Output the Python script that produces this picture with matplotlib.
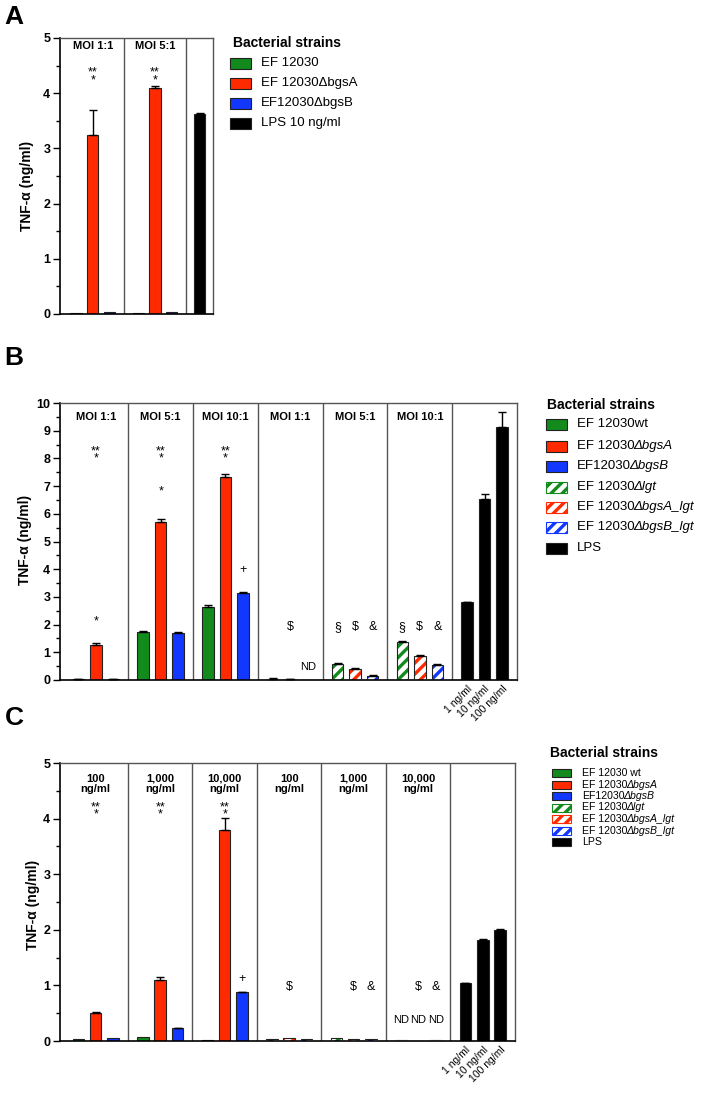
import numpy as np
import matplotlib.pyplot as plt
from matplotlib.patches import Rectangle
from matplotlib.ticker import MultipleLocator

plt.rcParams['font.family'] = ['Liberation Sans', 'DejaVu Sans']
plt.rcParams['hatch.linewidth'] = 2.4

GREEN = '#128a1c'
RED = '#ff2a00'
BLUE = '#1238ff'
FRAME = '#555555'

# ==========================================================
# DATA - panel A (MOI, LPS 10 ng/ml)
# ==========================================================
a_groups = ["MOI 1:1", "MOI 5:1"]
a_wt = [0.01, 0.02]
a_bgsA = [3.25, 4.10]
a_bgsA_err = [0.45, 0.03]
a_bgsB = [0.03, 0.04]
a_lps = [3.62]
a_lps_err = [0.03]
# legend labels: (upright part, italic part)
a_legend = [("EF 12030", ""), ("EF 12030ΔbgsA", ""), ("EF12030ΔbgsB", ""),
            ("LPS 10 ng/ml", "")]
# (group, bar, text, y)
a_marks = [(0, 1, "**\n*", 4.30), (1, 1, "**\n*", 4.30)]

# ==========================================================
# DATA - panel B (MOI, with lgt mutants)
# ==========================================================
b_groups = ["MOI 1:1", "MOI 5:1", "MOI 10:1"]
b_wt = [0.03, 1.73, 2.62]
b_wt_err = [0.01, 0.03, 0.10]
b_bgsA = [1.28, 5.70, 7.33]
b_bgsA_err = [0.06, 0.13, 0.10]
b_bgsB = [0.02, 1.71, 3.13]
b_bgsB_err = [0.01, 0.02, 0.04]
b_lgt = [0.05, 0.58, 1.38]
b_lgt_err = [0.01, 0.02, 0.02]
b_bgsA_lgt = [0.03, 0.41, 0.88]
b_bgsA_lgt_err = [0.01, 0.02, 0.02]
b_bgsB_lgt = [0.01, 0.16, 0.55]
b_bgsB_lgt_err = [0.0, 0.01, 0.02]
b_lps = [2.80, 6.55, 9.12]
b_lps_err = [0.02, 0.17, 0.54]
b_marks = [(0, 1, "**\n*", 8.12), (0, 1, "*", 2.10),
           (1, 1, "**\n*", 8.12), (1, 1, "*", 6.80),
           (2, 1, "**\n*", 8.12), (2, 2, "+", 3.97),
           (3, 1, "$", 1.92), (3, 2, "ND", 0.47),
           (4, 0, "§", 1.92), (4, 1, "$", 1.92), (4, 2, "&", 1.92),
           (5, 0, "§", 1.92), (5, 1, "$", 1.92), (5, 2, "&", 1.92)]

# ==========================================================
# DATA - panel C (concentrations)
# ==========================================================
c_groups = ["100\nng/ml", "1,000\nng/ml", "10,000\nng/ml"]
c_wt = [0.03, 0.07, 0.02]
c_wt_err = [0.0, 0.0, 0.0]
c_bgsA = [0.50, 1.10, 3.80]
c_bgsA_err = [0.02, 0.06, 0.21]
c_bgsB = [0.06, 0.23, 0.88]
c_bgsB_err = [0.0, 0.01, 0.01]
c_lgt = [0.04, 0.05, 0.01]
c_bgsA_lgt = [0.05, 0.03, 0.005]
c_bgsB_lgt = [0.04, 0.04, 0.01]
c_lgt_err = [0.0, 0.0, 0.0]
c_lps = [1.04, 1.81, 2.00]
c_lps_err = [0.01, 0.02, 0.02]
c_marks = [(0, 1, "**\n*", 4.14), (1, 1, "**\n*", 4.14),
           (2, 1, "**\n*", 4.14), (2, 2, "+", 1.12),
           (3, 1, "$", 0.98),
           (4, 1, "$", 0.98), (4, 2, "&", 0.98),
           (5, 1, "$", 0.98), (5, 2, "&", 0.98),
           (5, 0, "ND", 0.38), (5, 1, "ND", 0.38), (5, 2, "ND", 0.38)]

lps_labels = ["1 ng/ml", "10 ng/ml", "100 ng/ml"]
bc_legend = [("EF 12030wt", ""), ("EF 12030", "ΔbgsA"), ("EF12030", "ΔbgsB"),
             ("EF 12030", "Δlgt"), ("EF 12030", "ΔbgsA_lgt"),
             ("EF 12030", "ΔbgsB_lgt"), ("LPS", "")]
c_legend = [("EF 12030 wt", "")] + bc_legend[1:]

BW = 0.66


def draw_bars(ax, x, vals, errs, color, hatched=False):
    x = np.asarray(x, dtype=float)
    errs = np.asarray(errs, dtype=float)
    if hatched:
        ax.bar(x, vals, width=BW, color='white', edgecolor=color,
               hatch='///', linewidth=0, zorder=2)
        ax.bar(x, vals, width=BW, fill=False, edgecolor='#222222',
               linewidth=0.8, zorder=3)
    else:
        ax.bar(x, vals, width=BW, color=color, edgecolor='#222222',
               linewidth=0.8, zorder=2)
    keep = errs > 0
    if keep.any():
        ax.errorbar(x[keep], np.asarray(vals)[keep],
                    yerr=[np.zeros(keep.sum()), errs[keep]],
                    fmt='none', ecolor='black', elinewidth=1,
                    capsize=3, capthick=1, zorder=4)


def style_axis(ax, ymax, xmax, dividers):
    ax.set_xlim(0, xmax)
    ax.set_ylim(0, ymax)
    ax.yaxis.set_major_locator(MultipleLocator(1))
    ax.yaxis.set_minor_locator(MultipleLocator(0.5))
    ax.tick_params(axis='y', which='major', length=5, width=1, labelsize=9, pad=2)
    ax.tick_params(axis='y', which='minor', length=3, width=1)
    for lab in ax.get_yticklabels():
        lab.set_fontweight('bold')
    ax.spines['left'].set_linewidth(1.2)
    ax.spines['bottom'].set_linewidth(1.2)
    for s in ['top', 'right']:
        ax.spines[s].set_color(FRAME)
        ax.spines[s].set_linewidth(1)
    for d in dividers:
        ax.axvline(d, color=FRAME, linewidth=1, zorder=1)


def put_marks(ax, centers, marks, fs=9):
    for g, b, txt, y in marks:
        size = 8 if txt == "ND" else fs
        ax.text(centers[g] + (b - 1), y, txt, ha='center', va='center',
                fontsize=size, linespacing=0.5, zorder=5)


fig = plt.figure(figsize=(7.1, 10.94), dpi=100)
W, H = 710, 1094


def px_axes(x0, y0, x1, y1):
    return fig.add_axes([x0 / W, 1 - y1 / H, (x1 - x0) / W, (y1 - y0) / H])


# ==========================================================
# PANEL A
# ==========================================================
axA = px_axes(60, 38, 213, 314)
a_centers = np.array([1.95, 5.65])
a_lps_x = [8.3]
draw_bars(axA, a_centers - 1, a_wt, [0, 0], GREEN)
draw_bars(axA, a_centers, a_bgsA, a_bgsA_err, RED)
draw_bars(axA, a_centers + 1, a_bgsB, [0, 0], BLUE)
draw_bars(axA, a_lps_x, a_lps, a_lps_err, 'black')
style_axis(axA, 5, 9.1, [3.8, 7.5])
axA.set_xticks([])
for c, lab in zip(a_centers, a_groups):
    axA.text(c, 4.86, lab, ha='center', va='center', fontsize=8, fontweight='bold')
put_marks(axA, a_centers, a_marks)

# ==========================================================
# PANEL B
# ==========================================================
axB = px_axes(60, 403, 517, 680)
centers = 2.05 + 3.7 * np.arange(7)
dividers = centers[:-1] + 1.85
xmax = centers[-1] + 1.85
draw_bars(axB, centers[:3] - 1, b_wt, b_wt_err, GREEN)
draw_bars(axB, centers[:3], b_bgsA, b_bgsA_err, RED)
draw_bars(axB, centers[:3] + 1, b_bgsB, b_bgsB_err, BLUE)
draw_bars(axB, centers[3:6] - 1, b_lgt, b_lgt_err, GREEN, hatched=True)
draw_bars(axB, centers[3:6], b_bgsA_lgt, b_bgsA_lgt_err, RED, hatched=True)
draw_bars(axB, centers[3:6] + 1, b_bgsB_lgt, b_bgsB_lgt_err, BLUE, hatched=True)
lps_x = centers[6] + np.array([-1, 0, 1])
draw_bars(axB, lps_x, b_lps, b_lps_err, 'black')
style_axis(axB, 10, xmax, dividers)
axB.set_xticks(lps_x, lps_labels, rotation=45, ha='right',
               rotation_mode='anchor', fontsize=7.5)
axB.tick_params(axis='x', length=0, pad=3)
for c, lab in zip(centers[:6], b_groups * 2):
    axB.text(c, 9.5, lab, ha='center', va='center', fontsize=8, fontweight='bold')
put_marks(axB, centers, b_marks)

# ==========================================================
# PANEL C
# ==========================================================
axC = px_axes(60, 763, 515, 1041)
draw_bars(axC, centers[:3] - 1, c_wt, c_wt_err, GREEN)
draw_bars(axC, centers[:3], c_bgsA, c_bgsA_err, RED)
draw_bars(axC, centers[:3] + 1, c_bgsB, c_bgsB_err, BLUE)
draw_bars(axC, centers[3:6] - 1, c_lgt, c_lgt_err, GREEN, hatched=True)
draw_bars(axC, centers[3:6], c_bgsA_lgt, c_lgt_err, RED, hatched=True)
draw_bars(axC, centers[3:6] + 1, c_bgsB_lgt, c_lgt_err, BLUE, hatched=True)
draw_bars(axC, lps_x, c_lps, c_lps_err, 'black')
style_axis(axC, 5, xmax, dividers)
axC.set_xticks(lps_x, lps_labels, rotation=45, ha='right',
               rotation_mode='anchor', fontsize=7.5)
axC.tick_params(axis='x', length=0, pad=3)
for c, lab in zip(centers[:6], c_groups * 2):
    axC.text(c, 4.63, lab, ha='center', va='center', fontsize=8,
             fontweight='bold', linespacing=1.0)
put_marks(axC, centers, c_marks)

# ==========================================================
# OVERLAY: panel letters, y labels, legends (pixel coords)
# ==========================================================
ov = fig.add_axes([0, 0, 1, 1])
ov.set_xlim(0, W)
ov.set_ylim(H, 0)
ov.axis('off')
renderer = fig.canvas.get_renderer()

for letter, (x, y) in zip("ABC", [(14, 17), (14, 358), (14, 718)]):
    ov.text(x, y, letter, fontsize=19, fontweight='bold', ha='center', va='center')

for x, y in [(27, 186), (25, 540), (33, 905)]:
    ov.text(x, y, "TNF-α (ng/ml)", rotation=90, fontsize=10, fontweight='bold',
            ha='center', va='center')


def draw_legend(title, tx, ty, labels, styles, rows, px, pw, ph, lx, fs):
    ov.text(tx, ty, title, fontsize=10, fontweight='bold', ha='left', va='center')
    for (reg, ital), (col, hat), ry in zip(labels, styles, rows):
        if hat:
            ov.add_patch(Rectangle((px, ry - ph / 2), pw, ph, facecolor='white',
                                   edgecolor=col, hatch='///', linewidth=0.8))
        else:
            ov.add_patch(Rectangle((px, ry - ph / 2), pw, ph, facecolor=col,
                                   edgecolor='#222222', linewidth=0.8))
        t = ov.text(lx, ry, reg, fontsize=fs, ha='left', va='center')
        if ital:
            w = t.get_window_extent(renderer).width
            ov.text(lx + w - 1.5, ry, ital, fontsize=fs, style='italic',
                    ha='left', va='center')


a_styles = [(GREEN, False), (RED, False), (BLUE, False), ('black', False)]
bc_styles = [(GREEN, False), (RED, False), (BLUE, False), (GREEN, True),
             (RED, True), (BLUE, True), ('black', False)]

draw_legend("Bacterial strains", 233, 43, a_legend, a_styles,
            [63, 83, 103, 123], 230, 21, 11, 261, 9.5)
draw_legend("Bacterial strains", 547, 405, bc_legend, bc_styles,
            [424, 446, 466, 487, 507, 527, 548], 546, 21, 11, 577, 9.5)
draw_legend("Bacterial strains", 550, 753, c_legend, bc_styles,
            [773, 784.5, 796, 807.5, 819, 830.5, 842], 552, 19, 8, 582, 7.6)

fig.savefig("out.png", dpi=100)
